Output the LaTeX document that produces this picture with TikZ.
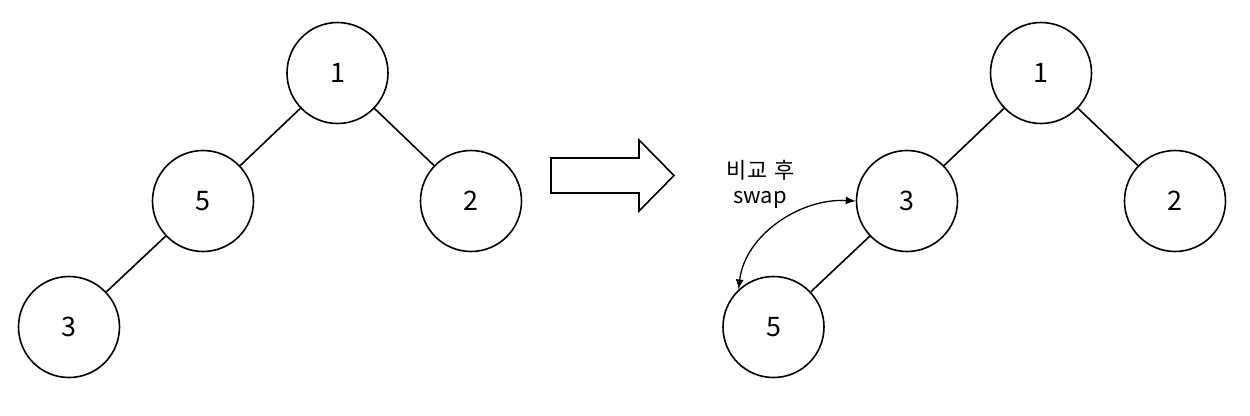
\documentclass[tikz,border=0pt]{standalone}
\usepackage{fontspec}
\setmainfont{Noto Sans CJK KR}
\usetikzlibrary{arrows.meta}
\begin{document}
\begin{tikzpicture}[x=1bp,y=-1bp,
  tnode/.style={circle,draw,line width=1.6bp,minimum size=101bp,inner sep=0pt,font=\fontsize{27}{30}\selectfont},
  edge/.style={line width=1.6bp},
  lbl/.style={font=\fontsize{22}{26}\selectfont,align=center}]
\path[use as bounding box,fill=white] (0,0) rectangle (1250,415);
% left tree
\node[tnode] (a1) at (337.5,73) {1};
\node[tnode] (a5) at (203,201) {5};
\node[tnode] (a2) at (471,201) {2};
\node[tnode] (a3) at (69,327) {3};
\draw[edge] (a1) -- (a5);
\draw[edge] (a1) -- (a2);
\draw[edge] (a5) -- (a3);
% big arrow
\draw[line width=1.6bp,line join=miter] (551,158) -- (639,158) -- (639,140) -- (674,175.5) -- (639,211) -- (639,193) -- (551,193) -- cycle;
% right tree
\node[tnode] (b1) at (1041,73) {1};
\node[tnode] (b3) at (907,201) {3};
\node[tnode] (b2) at (1175,201) {2};
\node[tnode] (b5) at (773.5,327) {5};
\draw[edge] (b1) -- (b3);
\draw[edge] (b1) -- (b2);
\draw[edge] (b3) -- (b5);
% swap arrow
\draw[line width=1.3bp,{Latex[length=10bp,width=8bp]}-{Latex[length=10bp,width=8bp]}] (b3.west) .. controls (800,198) and (745,235) .. (b5.133);
\node[lbl] (t1) at (761,170) {비교\hspace{0.35em}후};
\node[lbl] (t2) at (760,200) {swap};
\end{tikzpicture}
\end{document}
